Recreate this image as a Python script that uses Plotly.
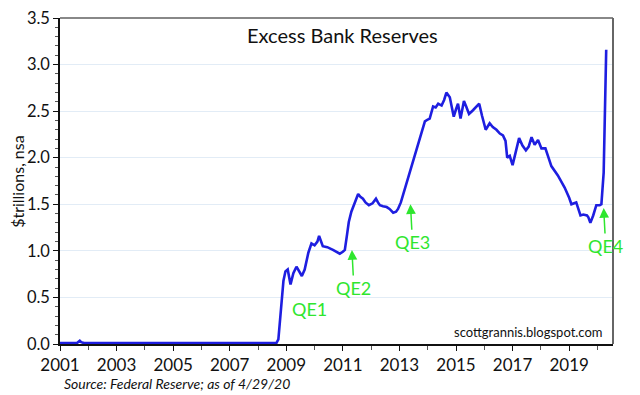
import plotly.graph_objects as go

# Decimal years and excess reserves ($ trillions)
years = [2001.0, 2001.6, 2001.7, 2001.75, 2001.85, 2002.5, 2003.5, 2004.5, 2005.5, 2006.5, 2007.5,
         2008.0, 2008.1, 2008.65, 2008.72, 2008.8, 2008.9, 2008.97, 2009.05, 2009.15, 2009.25,
         2009.36, 2009.45, 2009.55, 2009.65, 2009.78, 2009.89, 2010.0, 2010.1, 2010.16, 2010.29,
         2010.45, 2010.65, 2010.8, 2010.89, 2011.0, 2011.07, 2011.15, 2011.21, 2011.30, 2011.42,
         2011.54, 2011.62, 2011.71, 2011.8, 2011.92, 2012.05, 2012.17, 2012.24, 2012.31, 2012.42,
         2012.55, 2012.65, 2012.78, 2012.88, 2012.95, 2013.05, 2013.13, 2013.3, 2013.48, 2013.7,
         2013.90, 2014.0, 2014.07, 2014.19, 2014.28, 2014.37, 2014.49, 2014.58, 2014.66, 2014.78,
         2014.85, 2014.92, 2015.0, 2015.07, 2015.16, 2015.22, 2015.28, 2015.36, 2015.46, 2015.6,
         2015.82, 2015.92, 2016.05, 2016.19, 2016.3, 2016.43, 2016.55, 2016.66, 2016.75, 2016.81,
         2016.90, 2017.0, 2017.1, 2017.23, 2017.35, 2017.47, 2017.57, 2017.67, 2017.78, 2017.90,
         2018.02, 2018.16, 2018.27, 2018.37, 2018.60, 2018.84, 2019.0, 2019.08, 2019.25, 2019.32,
         2019.40, 2019.5, 2019.63, 2019.68, 2019.75, 2019.85, 2019.96, 2020.08, 2020.14, 2020.22,
         2020.28, 2020.31]
reserves = [0.01, 0.01, 0.035, 0.02, 0.01, 0.01, 0.01, 0.01, 0.01, 0.01, 0.01,
            0.015, 0.01, 0.01, 0.05, 0.30, 0.68, 0.78, 0.80, 0.64, 0.76,
            0.83, 0.78, 0.73, 0.80, 0.98, 1.08, 1.06, 1.10, 1.16, 1.05,
            1.04, 1.01, 0.98, 0.97, 0.99, 1.01, 1.18, 1.31, 1.42, 1.52,
            1.61, 1.58, 1.56, 1.52, 1.49, 1.51, 1.56, 1.52, 1.49, 1.48,
            1.47, 1.45, 1.41, 1.42, 1.45, 1.52, 1.60, 1.78, 1.95, 2.18,
            2.39, 2.41, 2.42, 2.55, 2.54, 2.58, 2.56, 2.62, 2.70, 2.65,
            2.55, 2.44, 2.52, 2.58, 2.42, 2.52, 2.61, 2.55, 2.47, 2.51,
            2.58, 2.45, 2.30, 2.37, 2.33, 2.30, 2.26, 2.24, 2.18, 2.00,
            2.02, 1.92, 2.05, 2.21, 2.13, 2.08, 2.12, 2.22, 2.14, 2.19,
            2.10, 2.10, 2.00, 1.91, 1.81, 1.68, 1.57, 1.50, 1.52, 1.44,
            1.38, 1.39, 1.38, 1.36, 1.30, 1.38, 1.49, 1.49, 1.50, 1.84,
            2.60, 3.16]

tick_years = [2001, 2003, 2005, 2007, 2009, 2011, 2013, 2015, 2017, 2019]
tick_labels = [str(y) for y in tick_years]

qe_labels = ["QE1", "QE2", "QE3", "QE4"]
qe_years = [2009.82, 2011.32, 2013.39, 2020.22]
qe_values = [0.38, 1.01, 1.50, 1.46]

GREEN = "#2ee62e"
BLUE = "#1e1ee0"
FONT = "Lato, 'DejaVu Sans', sans-serif"

fig = go.Figure()
fig.add_trace(go.Scatter(x=years, y=reserves, mode="lines",
                         line=dict(color=BLUE, width=2.6), hoverinfo="skip"))

annotations = []
# QE1: text only
annotations.append(dict(x=qe_years[0], y=qe_values[0], text=qe_labels[0], showarrow=False,
                        font=dict(color=GREEN, size=18, family=FONT), xref="x", yref="y"))
# QE2-QE4 with upward arrows
for lab, xv, yv in zip(qe_labels[1:], qe_years[1:], qe_values[1:]):
    annotations.append(dict(x=xv, y=yv, text=lab, showarrow=True, arrowhead=2, arrowsize=1.3,
                            arrowwidth=1.5, arrowcolor=GREEN, ax=2, ay=38, standoff=0,
                            font=dict(color=GREEN, size=18, family=FONT), xref="x", yref="y"))

annotations.append(dict(x=0.51, y=0.948, xref="paper", yref="paper", xanchor="center", yanchor="middle",
                        text="Excess Bank Reserves",
                        showarrow=False, font=dict(size=20, color="#111", family=FONT)))
annotations.append(dict(x=0.985, y=0.005, xref="paper", yref="paper", xanchor="right", yanchor="bottom",
                        text="scottgrannis.blogspot.com", showarrow=False,
                        font=dict(size=13, color="#111", family=FONT)))
annotations.append(dict(x=0.003, y=-0.09, xref="paper", yref="paper", xanchor="left", yanchor="top",
                        text="<i>Source: Federal Reserve; as of 4/29/20</i>", showarrow=False,
                        font=dict(size=14, color="#111", family=FONT)))
annotations.append(dict(x=-0.078, y=0.5, xref="paper", yref="paper", xanchor="center", yanchor="middle",
                        text="$trillions, nsa", textangle=-90, showarrow=False,
                        font=dict(size=16, color="#111", family=FONT)))

shapes = [
    dict(type="line", xref="paper", yref="paper", x0=0, x1=1, y0=1, y1=1,
         line=dict(color="#888", width=2)),
    dict(type="line", xref="paper", yref="paper", x0=1, x1=1, y0=0, y1=1,
         line=dict(color="#666", width=2)),
]

fig.update_layout(
    width=632, height=387,
    margin=dict(l=52, r=27, t=10, b=51),
    plot_bgcolor="white", paper_bgcolor="white",
    showlegend=False,
    annotations=annotations,
    shapes=shapes,
    font=dict(family=FONT, color="#111"),
    xaxis=dict(range=[2001, 2020.55], tickvals=tick_years, ticktext=tick_labels, automargin=False,
               showgrid=False, zeroline=False, showline=True, linecolor="#111", linewidth=1.5,
               ticks="outside", ticklen=5, tickcolor="#111", ticklabeloverflow="allow",
               minor=dict(dtick=1, tick0=2001, ticks="outside", ticklen=4, tickcolor="#555"),
               tickfont=dict(size=17, family=FONT, color="#111")),
    yaxis=dict(range=[0, 3.5], dtick=0.5, tickformat=".1f", automargin=False,
               showgrid=True, gridcolor="#e2ecf6", gridwidth=1, zeroline=False,
               showline=True, linecolor="#111", linewidth=1.5, ticklabeloverflow="allow",
               ticks="outside", ticklen=5, tickcolor="#111",
               minor=dict(dtick=0.1, ticks="outside", ticklen=3, tickcolor="#555", showgrid=False),
               tickfont=dict(size=16.5, family=FONT, color="#111")),
)

fig.write_html("out.html")
